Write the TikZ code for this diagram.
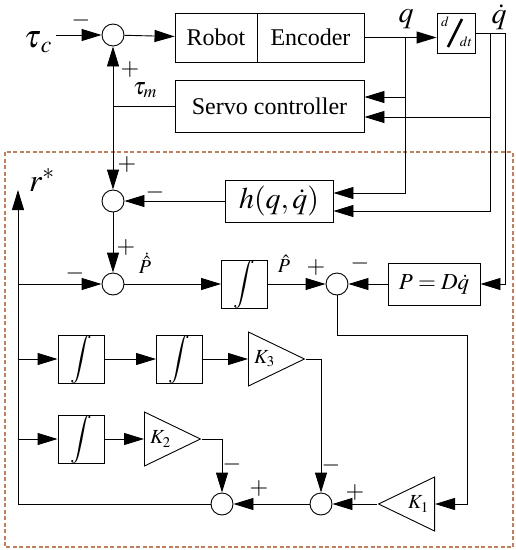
\documentclass[tikz,border=0pt]{standalone}
\usepackage{amsmath}
\usepackage{mathptmx}
\usepackage{fontspec}
\setmainfont{Liberation Serif}
\usetikzlibrary{arrows.meta,shapes.geometric,positioning}
\definecolor{framebrown}{RGB}{192,128,96}

\begin{document}
\begin{tikzpicture}[x=1pt,y=-1pt,
    every node/.style={font=\fontsize{24}{28}\selectfont},
    line width=0.9pt,
    >={Triangle[length=20pt,width=12pt]},
    block/.style={draw,rectangle,inner sep=0pt},
    sumnode/.style={draw,circle,minimum size=22pt,inner sep=0pt},
    gain/.style={draw,isosceles triangle,isosceles triangle stretches,inner sep=0pt,
        minimum height=56pt,minimum width=54pt,font=\fontsize{20}{24}\selectfont},
    intbox/.style={block,minimum size=46pt},
    small/.style={inner sep=0pt,font=\fontsize{14}{14}\selectfont}]
    \useasboundingbox (0,0) rectangle (516,550);
    \draw [framebrown,line width=1.1pt,dash pattern=on 4pt off 2.5pt](5,152) rectangle (513,547);
    % top row
    \node [sumnode] (s1) at (113,35) {};
    \node [block,minimum width=82pt,minimum height=49pt] (robot) at (216,37.5) {Robot};
    \node [block,minimum width=107pt,minimum height=49pt] (enc) at (310.5,37.5) {Encoder};
    \node [block,minimum width=38pt,minimum height=40pt] (dd) at (456,33) {};
    \node [small] (ddn) at (445,22) {$d$};
    \node [small] (ddd) at (466,42) {$dt$};
    \draw [line width=2.6pt](448,47) -- (462,19);
    \node [block,minimum width=189pt,minimum height=52pt] (servo) at (269.5,106) {Servo controller};
    \node (tauc) at (38,42) {\fontsize{32}{32}\selectfont$\boldsymbol{\tau}_c$};
    \node [inner sep=0pt] (qlab) at (406,19) {\fontsize{30}{30}\selectfont$q$};
    \node [inner sep=0pt] (qdlab) at (499,17) {\fontsize{30}{30}\selectfont$\dot q$};
    \coordinate (qb) at (405,37.5);
    \coordinate (qdb) at (490,33);
    \coordinate (qde) at (505,33);
    \draw [->](tauc.east |- s1) -- (s1);
    \draw [->](s1) -- (robot);
    \draw [->](enc.east) -- (dd.west |- enc.east);
    \draw (dd.east) -- (qde);
    \draw [->](qb) |- ([yshift=9pt]servo.east);
    \draw [->](qdb) |- ([yshift=-11pt]servo.east);
    \coordinate (tm) at (s1 |- servo.west);
    \draw (servo.west) -- (tm);
    \draw [->](tm) -- (s1);
    % middle rows
    \node [sumnode] (s2) at (113,201) {};
    \node [block,minimum width=108pt,minimum height=42pt] (h) at (279,201) {\fontsize{30}{30}\selectfont$h(q,\dot q)$};
    \node [sumnode] (s3) at (113,284) {};
    \node [intbox] (i1) at (244.5,284) {$\displaystyle\int$};
    \node [sumnode] (s4) at (337,284) {};
    \node [block,minimum width=92pt,minimum height=42pt] (pd) at (434,284) {\fontsize{23}{26}\selectfont$P=D\dot q$};
    \draw [->](tm) -- (s2);
    \draw [->](qb) |- ([yshift=8pt]h.east);
    \draw [->](qdb) |- ([yshift=-10pt]h.east);
    \draw [->](qde) |- (pd.east);
    \draw [->](h) -- (s2);
    \draw [->](s2) -- (s3);
    \draw [->](s3) -- (i1);
    \draw [->](i1) -- (s4);
    \draw [->](pd) -- (s4);
    % lower part
    \node [intbox] (i2) at (81,359) {$\displaystyle\int$};
    \node [intbox] (i3) at (179.5,359) {$\displaystyle\int$};
    \node [intbox] (i4) at (81,439) {$\displaystyle\int$};
    \node [gain,anchor=lower side] (k3) at (248,359) {$K_3$};
    \node [gain,anchor=lower side] (k2) at (144,439) {$K_2$};
    \node [gain,shape border rotate=180,anchor=lower side] (k1) at (435,504) {$K_1$};
    \node [sumnode] (s5) at (321,504) {};
    \node [sumnode] (s6) at (222,504) {};
    \coordinate (rl) at (18,504);
    \coordinate (rt) at (18,190);
    \coordinate (fb) at (467,335);
    \draw [->](s6) -- (rl) -- (rt);
    \draw [->](rl |- s3) -- (s3);
    \draw [->](rl |- i2) -- (i2);
    \draw [->](rl |- i4) -- (i4);
    \draw [->](i2) -- (i3);
    \draw [->](i3) -- (k3.lower side);
    \draw [->](i4) -- (k2.lower side);
    \draw [->](k3.apex) -| (s5);
    \draw [->](k2.apex) -| (s6);
    \draw [->](s4) |- (fb) |- (k1.lower side);
    \draw [->](k1.apex) -- (s5);
    \draw [->](s5) -- (s6);
    % signs and signal names
    \node (m1) at (81,20) {$-$};
    \node (p1) at (130,70) {$+$};
    \node (taum) at (145,90) {$\tau_m$};
    \node (p2) at (127,165) {$+$};
    \node (m2) at (155,192) {$-$};
    \node (p3) at (126,247) {$+$};
    \node (m3) at (75,273) {$-$};
    \node (p4) at (316,267) {$+$};
    \node (m4) at (360,263) {$-$};
    \node (m5) at (331,465) {$-$};
    \node (p5) at (355,492) {$+$};
    \node (m6) at (232,464) {$-$};
    \node (p6) at (259,488) {$+$};
    \node (rstar) at (42,180) {\fontsize{32}{32}\selectfont$r^{*}$};
    \node [inner sep=0pt] (pdh) at (145,263) {\fontsize{20}{24}\selectfont$\dot{\hat P}$};
    \node [inner sep=0pt] (ph) at (284,264) {\fontsize{20}{24}\selectfont$\hat P$};
\end{tikzpicture}
\end{document}
